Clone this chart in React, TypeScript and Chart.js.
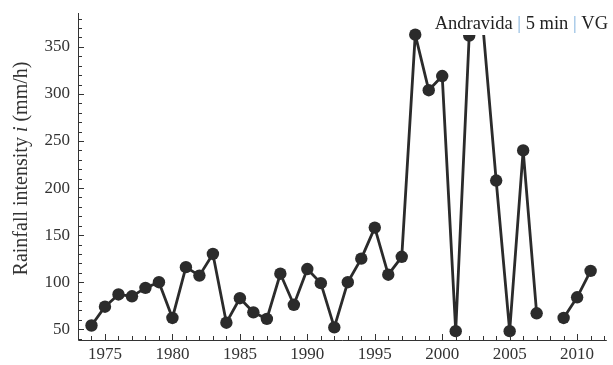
import { useEffect, useRef } from "react";
import { Chart, registerables } from "chart.js";

Chart.register(...registerables);

const years = [
  1974, 1975, 1976, 1977, 1978, 1979, 1980, 1981, 1982, 1983,
  1984, 1985, 1986, 1987, 1988, 1989, 1990, 1991, 1992, 1993,
  1994, 1995, 1996, 1997, 1998, 1999, 2000, 2001, 2002, 2003,
  2004, 2005, 2006, 2007, 2008, 2009, 2010, 2011,
];
const intensity: (number | null)[] = [
  54, 74, 87, 85, 94, 100, 62, 116, 107, 130,
  57, 83, 68, 61, 109, 76, 114, 99, 52, 100,
  125, 158, 108, 127, 363, 304, 319, 48, 362, 375,
  208, 48, 240, 67, null, 62, 84, 112,
];
const xTickYears = [1975, 1980, 1985, 1990, 1995, 2000, 2005, 2010];
const yTickValues = [50, 100, 150, 200, 250, 300, 350];
const titleParts = ["Andravida", "5 min", "VG"];
const yTitleBefore = "Rainfall intensity ";
const yTitleItalic = "i";
const yTitleAfter = " (mm/h)";

const X_MIN = 1973;
const X_MAX = 2012.2;
const Y_MIN = 38.6;
const Y_MAX = 386;

const SERIF = "'Liberation Serif', 'DejaVu Serif', serif";
const INK = "#2b2b2b";

const framePlugin = {
  id: "frame",
  afterDraw(chart: any) {
    const { ctx, chartArea } = chart;
    const xs = chart.scales.x;
    const ys = chart.scales.y;
    const { left, right, top, bottom } = chartArea;
    ctx.save();
    ctx.strokeStyle = "#333";
    ctx.lineWidth = 1;
    ctx.beginPath();
    ctx.moveTo(left + 0.5, top);
    ctx.lineTo(left + 0.5, bottom + 0.5);
    ctx.lineTo(right, bottom + 0.5);
    ctx.stroke();
    // y ticks (inward)
    ctx.beginPath();
    for (let v = 40; v <= Y_MAX; v += 10) {
      const py = Math.round(ys.getPixelForValue(v)) + 0.5;
      if (py < top) continue;
      const len = v % 50 === 0 ? 6 : 4;
      ctx.moveTo(left, py);
      ctx.lineTo(left + len, py);
    }
    // x ticks (inward)
    for (let yr = 1974; yr <= 2012; yr += 1) {
      const px = Math.round(xs.getPixelForValue(yr)) + 0.5;
      const len = yr % 5 === 0 ? 6 : 4;
      ctx.moveTo(px, bottom);
      ctx.lineTo(px, bottom - len);
    }
    ctx.stroke();

    // Title box with white background (top right)
    ctx.fillStyle = "#ffffff";
    ctx.fillRect(432, 0, chart.width - 432, 35);
    ctx.font = `18.5px ${SERIF}`;
    ctx.textBaseline = "alphabetic";
    ctx.textAlign = "left";
    const sep = " | ";
    const pieces: { t: string; c: string }[] = [];
    titleParts.forEach((p, i) => {
      if (i > 0) pieces.push({ t: sep, c: "#7fb0dc" });
      pieces.push({ t: p, c: "#222" });
    });
    const total = pieces.reduce((s, p) => s + ctx.measureText(p.t).width, 0);
    let x = 608 - total;
    for (const p of pieces) {
      ctx.fillStyle = p.c;
      ctx.fillText(p.t, x, 29);
      x += ctx.measureText(p.t).width;
    }

    // Y axis title (rotated)
    ctx.translate(27, 168.5);
    ctx.rotate(-Math.PI / 2);
    ctx.fillStyle = "#333";
    const nFont = `20px ${SERIF}`;
    const iFont = `italic 20px ${SERIF}`;
    ctx.font = nFont;
    const w1 = ctx.measureText(yTitleBefore).width;
    const w3 = ctx.measureText(yTitleAfter).width;
    ctx.font = iFont;
    const w2 = ctx.measureText(yTitleItalic).width;
    let tx = -(w1 + w2 + w3) / 2;
    ctx.font = nFont;
    ctx.fillText(yTitleBefore, tx, 0);
    tx += w1;
    ctx.font = iFont;
    ctx.fillText(yTitleItalic, tx, 0);
    tx += w2;
    ctx.font = nFont;
    ctx.fillText(yTitleAfter, tx, 0);
    ctx.restore();
  },
};

export default function App() {
  const ref = useRef<HTMLCanvasElement>(null);
  useEffect(() => {
    if (!ref.current) return;
    const chart = new Chart(ref.current, {
      type: "line",
      data: {
        datasets: [
          {
            data: years.map((yr, i) => ({ x: yr, y: intensity[i] })) as any,
            borderColor: INK,
            backgroundColor: INK,
            borderWidth: 2.8,
            borderJoinStyle: "round",
            borderCapStyle: "round",
            pointRadius: 6.2,
            pointHoverRadius: 6.2,
            pointBorderWidth: 0,
            pointBackgroundColor: INK,
            spanGaps: false,
            tension: 0,
            clip: false as any,
          },
        ],
      },
      options: {
        animation: false,
        responsive: false,
        events: [],
        layout: { padding: { top: 13, right: 1, left: 0, bottom: 0 } },
        plugins: { legend: { display: false }, tooltip: { enabled: false } },
        scales: {
          x: {
            type: "linear",
            min: X_MIN,
            max: X_MAX,
            grid: { display: false, drawTicks: false },
            border: { display: false },
            afterBuildTicks: (s: any) => {
              s.ticks = xTickYears.map((v) => ({ value: v }));
            },
            afterFit: (s: any) => {
              s.height = 25;
              s.paddingLeft = 0;
              s.paddingRight = 0;
            },
            ticks: {
              padding: 4,
              maxRotation: 0,
              autoSkip: false,
              color: "#333",
              font: { family: SERIF, size: 17 },
              callback: (v: any) => String(v),
            },
          },
          y: {
            type: "linear",
            min: Y_MIN,
            max: Y_MAX,
            grid: { display: false, drawTicks: false },
            border: { display: false },
            afterBuildTicks: (s: any) => {
              s.ticks = yTickValues.map((v) => ({ value: v }));
            },
            afterFit: (s: any) => {
              s.width = 78;
              s.paddingTop = 0;
              s.paddingBottom = 0;
            },
            ticks: {
              padding: 8,
              autoSkip: false,
              color: "#333",
              font: { family: SERIF, size: 17 },
              callback: (v: any) => String(v),
            },
          },
        },
      },
      plugins: [framePlugin],
    });
    return () => chart.destroy();
  }, []);
  return (
    <div style={{ position: "absolute", left: 0, top: 0, width: 613, height: 365, background: "#fff" }}>
      <canvas ref={ref} width={613} height={365} style={{ width: 613, height: 365, display: "block" }} />
    </div>
  );
}
